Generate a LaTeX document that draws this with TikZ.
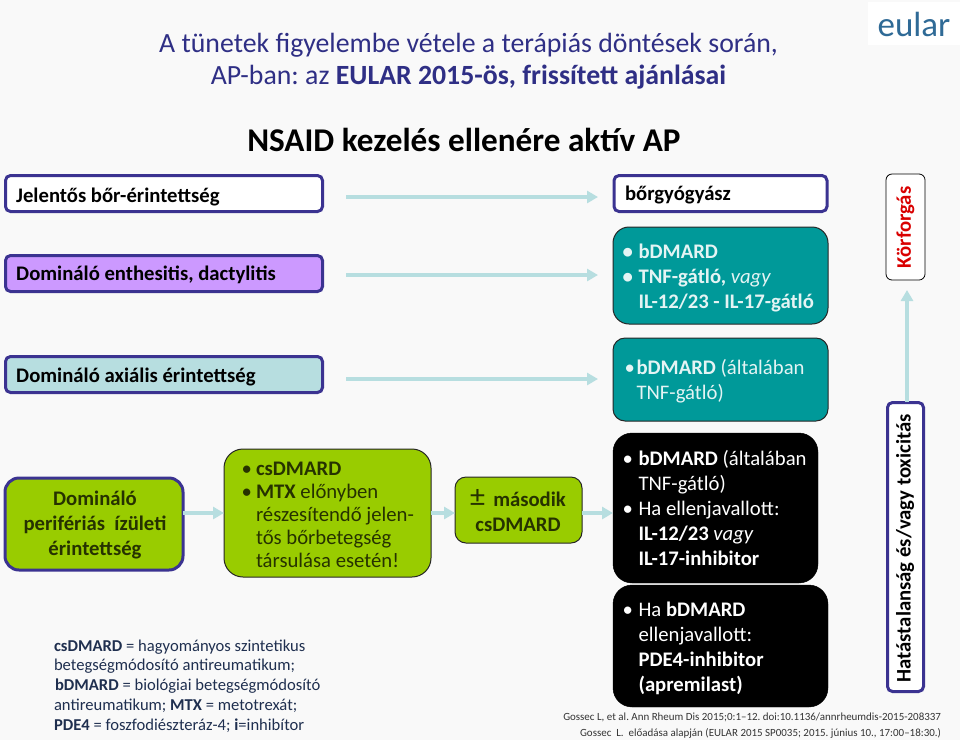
\documentclass[tikz,border=0pt]{standalone}
\usepackage{fontspec}
\setmainfont{Carlito}
\usetikzlibrary{arrows.meta}
\definecolor{bgc}{HTML}{F9F9F9}
\definecolor{navy}{HTML}{3B3391}
\definecolor{titleblue}{HTML}{2F2F85}
\definecolor{purp}{HTML}{CC99FF}
\definecolor{pale}{HTML}{B7DEE0}
\definecolor{teal2}{HTML}{009999}
\definecolor{lime}{HTML}{99CC00}
\definecolor{limetxt}{HTML}{263200}
\definecolor{notec}{HTML}{1F2F4F}
\definecolor{logoblue}{HTML}{2F6A96}
\definecolor{tealtxt}{HTML}{E4F4F4}
\newcommand{\fs}[1]{\fontsize{#1}{#1}\selectfont}
\newcommand{\bl}[1]{\makebox[#1][l]{\textbullet}}
\tikzset{
  x=1pt,y=-1pt,
  boxbase/.style={rounded corners=#1,anchor=north west,inner sep=0pt,outer sep=0pt},
  rowbox/.style={boxbase=5pt,draw=navy,line width=3pt,minimum width=317pt,minimum height=36pt},
  black box/.style={boxbase=19pt,fill=black,draw=black,text=white},
  flow/.style={draw=pale,line width=4pt,-{Triangle[length=11pt,width=12pt]}},
}
\begin{document}
\frenchspacing
\begin{tikzpicture}
\useasboundingbox (0,0) rectangle (960,740);
\fill[bgc] (0,0) rectangle (960,740);
% logo
\node[fill=white,anchor=north west,minimum width=92pt,minimum height=43pt,inner sep=0pt,outer sep=0pt] (logo) at (868,2) {};
\node[text=logoblue,font=\fs{35}] (logotxt) at (914,24) {eular};
% titles
\node[text=titleblue,font=\fs{27.8},align=center] (title) at (468.5,61) {A tünetek figyelembe vétele a terápiás döntések során,\\[4.5pt]AP-ban: az \textbf{EULAR 2015-ös, frissített ajánlásai}};
\node[font=\fs{33.2}\bfseries] (head) at (464,140) {NSAID kezelés ellenére aktív AP};
% left boxes
\node[rowbox,fill=white] (r1) at (5.5,175.5) {};
\node[font=\fs{20.7}\bfseries,anchor=west] (r1t) at (12.7,197) {Jelentős bőr-érintettség};
\node[rowbox,fill=purp] (r2) at (5.5,255.5) {};
\node[font=\fs{20.7}\bfseries,anchor=west] (r2t) at (12.7,275) {Domináló enthesitis, dactylitis};
\node[rowbox,fill=pale] (r3) at (5.5,356.5) {};
\node[font=\fs{20.7}\bfseries,anchor=west] (r3t) at (12.7,376.5) {Domináló axiális érintettség};
% right column
\node[boxbase=5pt,draw=navy,line width=3pt,fill=white,minimum width=213pt,minimum height=36pt] (derm) at (614,175.5) {};
\node[font=\fs{20.7}\bfseries,anchor=west] (dermt) at (621.5,195) {bőrgyógyász};
\node[boxbase=16pt,draw=black!85,line width=1pt,fill=teal2,minimum width=215pt,minimum height=97pt] (t1) at (613,227) {};
\node[anchor=west,align=left,text=tealtxt,font=\fs{20.7}] (t1t) at (619,277.5) {\textbf{\bl{16pt}bDMARD}\\[4.3pt]\textbf{\bl{16pt}TNF-gátló,} \textit{vagy}\\[4.3pt]\hspace*{16pt}\textbf{IL-12/23 - IL-17-gátló}};
\node[boxbase=12pt,draw=black!85,line width=1pt,fill=teal2,minimum width=215pt,minimum height=83pt] (t2) at (613,338) {};
\node[anchor=west,align=left,text=tealtxt,font=\fs{20.7}] (t2t) at (621,381.5) {\bl{12pt}\textbf{bDMARD} (általában\\[4.3pt]\hspace*{12pt}TNF-gátló)};
\node[black box,minimum width=205pt,minimum height=150pt] (b1) at (613,433) {};
\node[anchor=west,align=left,text=white,font=\fs{20.7}] (b1t) at (619,508) {\bl{16pt}\textbf{bDMARD} (általában\\[4.3pt]\hspace*{16pt}TNF-gátló)\\[4.3pt]\bl{16pt}Ha ellenjavallott:\\[4.3pt]\hspace*{16pt}\textbf{IL-12/23} \textit{vagy}\\[4.3pt]\hspace*{16pt}\textbf{IL-17-inhibitor}};
\node[black box,minimum width=215pt,minimum height=122pt] (b2) at (613,585) {};
\node[anchor=west,align=left,text=white,font=\fs{20.7}] (b2t) at (619,648) {\bl{16pt}Ha \textbf{bDMARD}\\[4.3pt]\hspace*{16pt}ellenjavallott:\\[4.3pt]\hspace*{16pt}\textbf{PDE4-inhibitor}\\[4.3pt]\hspace*{16pt}\textbf{(apremilast)}};
% vertical boxes
\node[boxbase=6pt,draw=black,line width=0.8pt,fill=white,minimum width=39pt,minimum height=106pt] (kor) at (886,174) {};
\node[rotate=90,text=red!85!black,font=\fs{20.7}\bfseries] (kort) at (905.5,227.5) {Körforgás};
\node[boxbase=5pt,draw=navy,line width=3pt,fill=white,minimum width=36pt,minimum height=289pt] (hat) at (887.5,402.5) {};
\node[rotate=90,font=\fs{20.7}\bfseries] (hatt) at (905,548.5) {Hatástalanság és/vagy toxicitás};
% lower flow
\node[boxbase=14pt,draw=navy,line width=3pt,fill=lime,minimum width=178pt,minimum height=92pt] (p) at (5,478) {};
\node[align=center,font=\fs{20.7}\bfseries,text=limetxt] (pt) at (95,525) {Domináló\\[4.3pt]perifériás\ \ ízületi\\[4.3pt]érintettség};
\node[boxbase=19pt,draw=black!85,line width=1pt,fill=lime,minimum width=207pt,minimum height=128pt] (cs) at (224,449) {};
\node[anchor=west,align=left,text=limetxt,font=\fs{20.7}] (cst) at (238,515) {\bl{14.5pt}\textbf{csDMARD}\\[2.3pt]\bl{14.5pt}\textbf{MTX} előnyben\\[2.3pt]\hspace*{14.5pt}részesítendő jelen-\\[2.3pt]\hspace*{14.5pt}tős bőrbetegség\\[2.3pt]\hspace*{14.5pt}társulása esetén!};
\node[boxbase=11pt,draw=black!85,line width=1pt,fill=lime,minimum width=127pt,minimum height=66pt] (m) at (455,477) {};
\node[align=center,font=\fs{20.7}\bfseries,text=limetxt] (mt) at (518,510.5) {{\fs{30}\mdseries ±}\ \,második\\[4.3pt]csDMARD};
% note
\node[anchor=north west,align=left,text=notec,font=\fs{16.6}] (note) at (50.5,636) {\textbf{csDMARD} = hagyományos szintetikus\\[3.2pt]betegségmódosító antireumatikum;\\[3.2pt]\hspace*{1pt}\textbf{bDMARD} = biológiai betegségmódosító\\[3.2pt]antireumatikum; \textbf{MTX} = metotrexát;\\[3.2pt]\textbf{PDE4} = foszfodiészteráz-4; \textbf{i}=inhibítor};
% refs
\node[anchor=east,text=black!80,font=\fs{10.95}] (ref1) at (944.5,717) {Gossec L, et al. Ann Rheum Dis 2015;0:1–12. doi:10.1136/annrheumdis-2015-208337};
\node[anchor=east,text=black!80,font=\fs{10.95}] (ref2) at (944.5,733) {Gossec\ \ L.\ \ előadása alapján (EULAR 2015 SP0035; 2015. június 10., 17:00–18:30.)};
% arrows
\coordinate (a1) at (346,197); \coordinate (a1e) at (598,197);
\coordinate (a2) at (346,275); \coordinate (a2e) at (598,275);
\coordinate (a3) at (346,379); \coordinate (a3e) at (598,379);
\coordinate (a7) at (907,402); \coordinate (a7e) at (907,290);
\draw[flow] (a1) -- (a1e);
\draw[flow] (a2) -- (a2e);
\draw[flow] (a3) -- (a3e);
\draw[flow] (a7) -- (a7e);
\draw[flow] (p.east |- 0,513) -- (cs.west |- 0,513);
\draw[flow] (cs.east |- 0,513) -- (m.west |- 0,513);
\draw[flow] (m.east |- 0,513) -- (b1.west |- 0,513);
\end{tikzpicture}
\end{document}
